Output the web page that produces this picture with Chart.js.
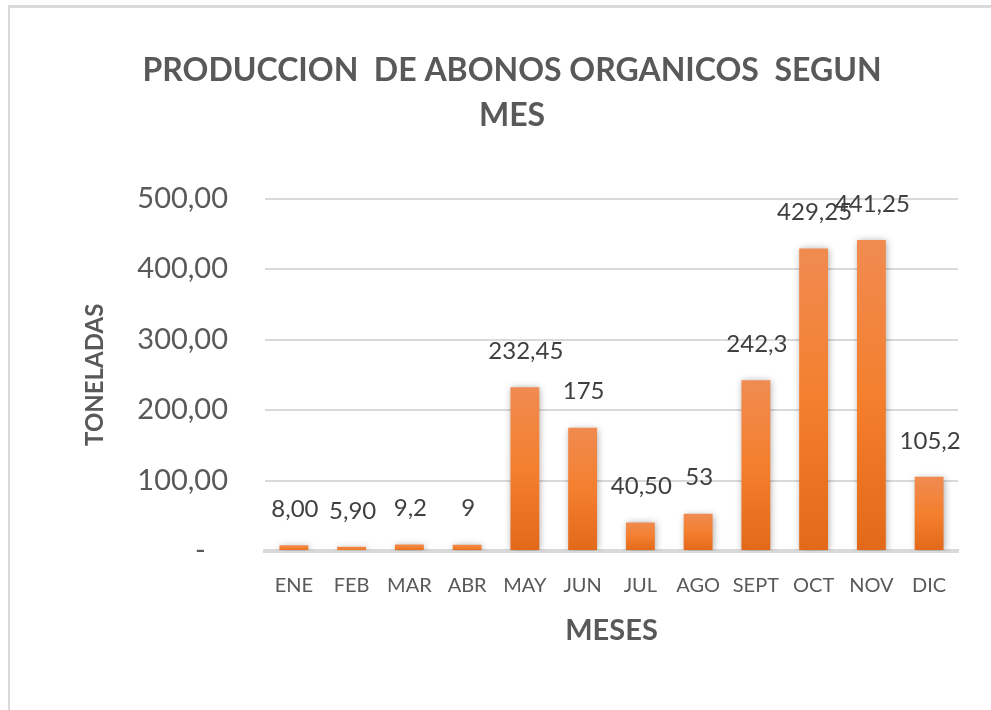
<!DOCTYPE html>
<html>
<head>
<meta charset="utf-8">
<script src="https://cdn.jsdelivr.net/npm/chart.js@4"></script>
<style>
    html, body { margin: 0; padding: 0; background: #fff; }
    #wrap { position: relative; width: 991px; height: 710px; overflow: hidden; }
    #frame {
        position: absolute; left: 8px; top: 5px; width: 1000px; height: 720px;
        border-top: 3px solid #d9d9d9; border-left: 2px solid #d9d9d9;
        pointer-events: none;
    }
</style>
</head>
<body>
<div id="wrap">
    <canvas id="abonosChart" width="991" height="710"></canvas>
    <div id="frame"></div>
</div>
<script>
// Data
const meses = ['ENE', 'FEB', 'MAR', 'ABR', 'MAY', 'JUN', 'JUL', 'AGO', 'SEPT', 'OCT', 'NOV', 'DIC'];
const toneladas = [8.00, 5.90, 9.2, 9, 232.45, 175, 40.50, 53, 242.3, 429.25, 441.25, 105.2];
const etiquetas = ['8,00', '5,90', '9,2', '9', '232,45', '175', '40,50', '53', '242,3', '429,25', '441,25', '105,2'];
const yTicks = [0, 100, 200, 300, 400, 500];

const gray = '#595959';
const fontFamily = 'Lato, "Open Sans", sans-serif';

// Per-bar vertical gradient, light top to darker bottom
function barGradient(context) {
    const chart = context.chart;
    if (!chart.chartArea || !chart.scales.y) return '#ed7d31';
    const y = chart.scales.y;
    const v = context.parsed ? context.parsed.y : 0;
    const top = y.getPixelForValue(v);
    const bottom = y.getPixelForValue(0);
    if (!isFinite(top) || Math.abs(bottom - top) < 1) return '#ef7f34';
    const g = chart.ctx.createLinearGradient(0, top, 0, bottom);
    g.addColorStop(0, '#f08b51');
    g.addColorStop(0.5, '#f47f2e');
    g.addColorStop(1, '#e2691a');
    return g;
}

// Soft shadow behind the bars
const barShadow = {
    id: 'barShadow',
    beforeDatasetsDraw(chart) {
        const ctx = chart.ctx;
        ctx.save();
        ctx.shadowColor = 'rgba(0,0,0,0.35)';
        ctx.shadowBlur = 7;
        ctx.shadowOffsetX = 1;
        ctx.shadowOffsetY = 1;
    },
    afterDatasetsDraw(chart) {
        chart.ctx.restore();
    }
};

// Value labels drawn above each bar
const valueLabels = {
    id: 'valueLabels',
    afterDatasetsDraw(chart) {
        const ctx = chart.ctx;
        const meta = chart.getDatasetMeta(0);
        ctx.save();
        ctx.font = '24px ' + fontFamily;
        ctx.fillStyle = '#404040';
        ctx.textAlign = 'center';
        ctx.textBaseline = 'middle';
        meta.data.forEach(function (bar, i) {
            ctx.fillText(etiquetas[i], bar.x + 1, bar.y - 36);
        });
        ctx.restore();
    }
};

const ctx = document.getElementById('abonosChart');
new Chart(ctx.getContext('2d'), {
    type: 'bar',
    data: {
        labels: meses,
        datasets: [{
            label: 'Toneladas',
            data: toneladas,
            backgroundColor: barGradient,
            borderWidth: 0,
            barPercentage: 0.5,
            categoryPercentage: 1
        }]
    },
    options: {
        responsive: false,
        animation: false,
        layout: {
            padding: { left: 66, right: 33, top: 0, bottom: 62 }
        },
        scales: {
            y: {
                min: 0,
                max: 500,
                afterFit: function (scale) { scale.width = 199; },
                afterBuildTicks: function (scale) {
                    scale.ticks = yTicks.map(function (v) { return { value: v }; });
                },
                ticks: {
                    padding: 37,
                    color: gray,
                    font: { family: fontFamily, size: 29 },
                    callback: function (value) {
                        if (value === 0) return '-   ';
                        return value.toFixed(2).replace('.', ',');
                    }
                },
                grid: {
                    color: function (c) { return c.tick && c.tick.value === 0 ? 'rgba(0,0,0,0)' : '#d9d9d9'; },
                    lineWidth: 2,
                    drawTicks: false
                },
                border: { display: false },
                title: {
                    display: true,
                    text: 'TONELADAS',
                    color: gray,
                    font: { family: fontFamily, size: 24, weight: 'bold' },
                    padding: { top: 15, bottom: 0 }
                }
            },
            x: {
                afterFit: function (scale) { scale.height = 97; },
                ticks: {
                    padding: 23,
                    color: gray,
                    font: { family: fontFamily, size: 20 }
                },
                grid: { display: false, drawTicks: false },
                border: { display: true, color: '#d9d9d9', width: 4 },
                title: {
                    display: true,
                    text: 'MESES',
                    color: gray,
                    font: { family: fontFamily, size: 29, weight: 'bold' },
                    padding: { top: 0, bottom: 0 }
                }
            }
        },
        plugins: {
            legend: { display: false },
            tooltip: { enabled: false },
            title: {
                display: true,
                text: ['PRODUCCION  DE ABONOS ORGANICOS  SEGUN', 'MES'],
                color: gray,
                font: { family: fontFamily, size: 32, weight: 'bold', lineHeight: 1.4 },
                padding: { top: 48, bottom: 61 }
            }
        }
    },
    plugins: [barShadow, valueLabels]
});
</script>
</body>
</html>
